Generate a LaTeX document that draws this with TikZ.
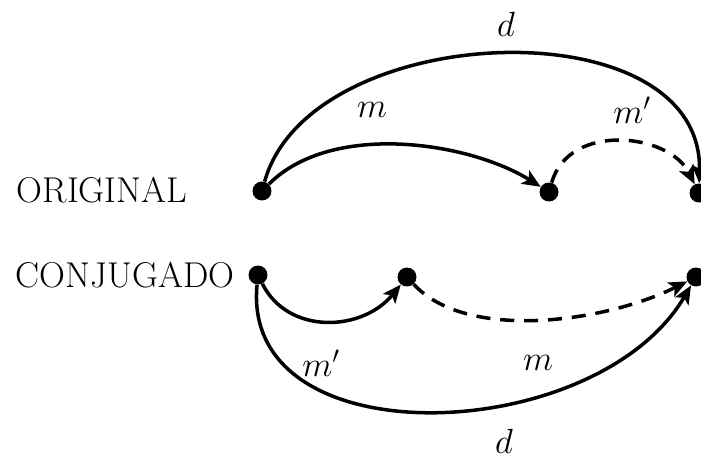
\documentclass[tikz,border=0pt]{standalone}
\usepackage{tikz}
\usetikzlibrary{arrows.meta}
\tikzset{
  pt/.style={circle,fill=black,inner sep=0pt,minimum size=13.5pt},
  arc/.style={line width=2.5pt,-{Stealth[length=13pt,width=11pt,inset=3pt]}},
  dsh/.style={arc,dash pattern=on 10pt off 7pt},
  lbl/.style={font=\fontsize{25}{30}\selectfont\itshape},
  word/.style={font=\fontsize{25.5}{30}\selectfont},
}

\begin{document}
\begin{tikzpicture}[x=0.025cm,y=-0.025cm]
    \useasboundingbox (0,0) rectangle (701,460);
    \node[word] (orig) at (102,190) {ORIGINAL};
    \node[word] (conj) at (125,275) {CONJUGADO};
    \node[pt] (o1) at (262,191) {};
    \node[pt] (o2) at (549,192) {};
    \node[pt] (o3) at (699,193) {};
    \node[pt] (c1) at (258,275) {};
    \node[pt] (c2) at (407,277) {};
    \node[pt] (c3) at (696,277) {};
    \draw[arc] (o1) .. controls +(48,-172) and +(4,-189) .. (o3);
    \draw[arc] (o1) .. controls +(70,-70) and +(-80,-50) .. (o2);
    \draw[dsh] (o2) .. controls +(20,-70) and +(-30,-60) .. (o3);
    \draw[arc] (c1) .. controls +(30,60) and +(-45,55) .. (c2);
    \draw[dsh] (c2) .. controls +(60,65) and +(-90,45) .. (c3);
    \draw[arc] (c1) .. controls +(-18,185) and +(-100,170) .. (c3);
    \node[lbl] (dtop) at (506,24) {$d$};
    \node[lbl] (mtop) at (372,110) {$m$};
    \node[lbl] (mptop) at (632,110) {$m'$};
    \node[lbl] (mpbot) at (321,363) {$m'$};
    \node[lbl] (mbot) at (538,363) {$m$};
    \node[lbl] (dbot) at (504,441) {$d$};
\end{tikzpicture}
\end{document}
